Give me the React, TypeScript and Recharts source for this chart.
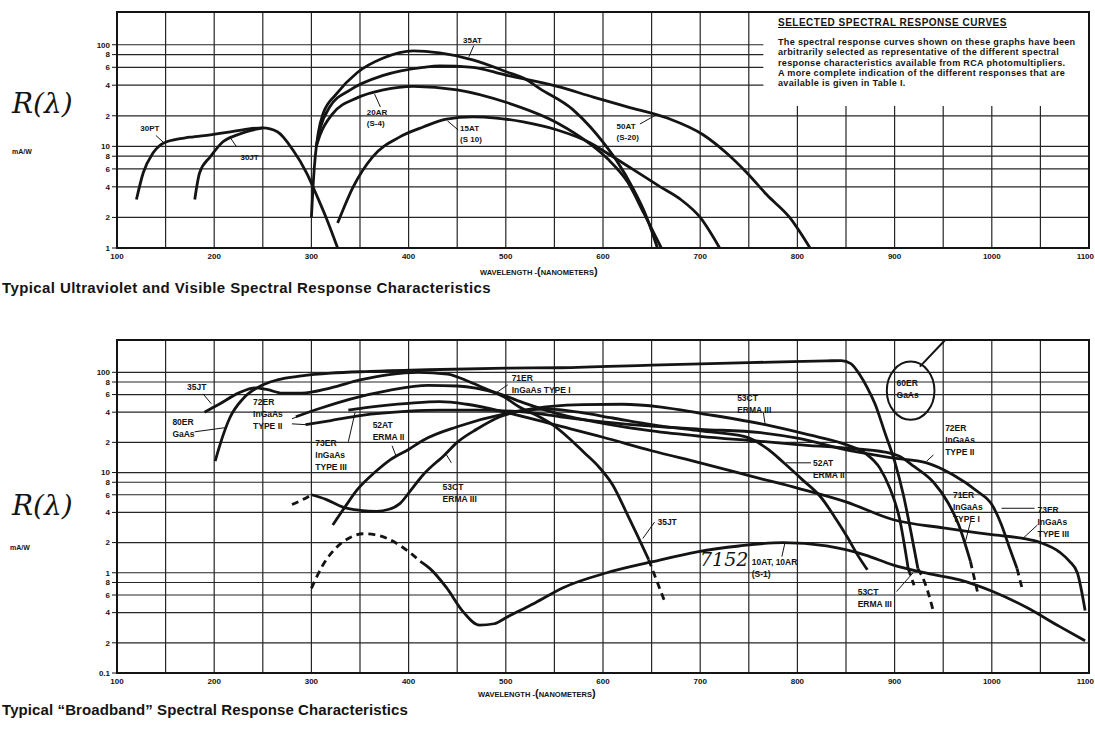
import {
  CartesianGrid,
  Line,
  LineChart,
  ReferenceArea,
  ReferenceDot,
  ReferenceLine,
  XAxis,
  YAxis,
} from "recharts";

const INK = "#141414";
const SANS = "'Liberation Sans', Arial, sans-serif";

// wavelength grid every 50 nm, labels every 100 nm
const WAVELENGTH_TICKS = [100, 150, 200, 250, 300, 350, 400, 450, 500, 550, 600, 650, 700, 750, 800, 850, 900, 950, 1000, 1050, 1100];
const UV_TICKS = [1, 2, 4, 6, 8, 10, 20, 40, 60, 80, 100];
const BB_TICKS = [0.1, 0.2, 0.4, 0.6, 0.8, 1, 2, 4, 6, 8, 10, 20, 40, 60, 80, 100];

// [wavelength nm, responsivity mA/W] — ultraviolet / visible
const UV_30PT = [[120, 3.0], [127, 5.5], [137, 8.6], [151, 11.1], [175, 12.3], [196, 13], [215, 13.8], [234, 14.8], [250, 15.2], [265, 13.9], [281, 9.2], [295, 5.5], [306, 3.2], [316, 1.9], [327, 1.0]];
const UV_30JT = [[180, 3.0], [185, 5.5], [196, 7.9], [209, 11.1], [223, 12.9], [237, 14.3], [250, 15.2]];
const UV_35AT = [[300, 2.0], [302, 4.5], [304, 8], [307, 13.5], [312, 21], [326, 33], [347, 53], [374, 74], [405, 87], [432, 83], [466, 71], [501, 54], [520, 46], [535, 37], [569, 23], [587, 15.5], [600, 11], [615, 7], [630, 4], [645, 2], [656, 1.0]];
const UV_20AR = [[305, 10], [309, 13], [322, 21], [347, 30], [374, 36], [405, 39], [450, 36], [501, 27], [553, 17], [587, 10.5], [605, 7.5], [625, 4.5], [642, 2.2], [660, 1.0]];
const UV_15AT = [[327, 1.76], [343, 4.0], [363, 7.9], [391, 12.4], [415, 15.5], [439, 18.5], [466, 19.5], [490, 19], [518, 17.4], [553, 14.5], [587, 10.8], [604, 8.6], [630, 6], [659, 4.0], [680, 3], [700, 2.0], [720, 1.0]];
const UV_50AT = [[305, 10], [309, 15], [319, 24.5], [340, 36], [374, 50], [415, 60], [432, 62], [466, 60], [501, 50], [520, 46], [553, 39], [590, 30.5], [625, 24.5], [666, 19], [703, 13], [727, 8.6], [748, 5.5], [769, 3.3], [792, 2.0], [813, 1.0]];

// broadband
const BB_35JT = [[190, 40], [205, 48], [225, 62], [242, 70], [255, 67], [270, 62], [290, 62], [320, 70], [350, 84], [380, 95], [410, 100], [440, 96], [463, 80], [480, 68], [498, 57], [514, 45], [532, 37], [548, 30], [565, 22], [580, 16], [596, 11.3], [610, 7.5], [623, 4.2], [635, 2.4], [647, 1.35]];
const BB_35JT_TAIL = [[647, 1.35], [656, 0.8], [664, 0.5]];
const BB_60ER = [[201, 13], [206, 19], [216, 35], [230, 55], [244, 70], [265, 84], [290, 92], [320, 98], [360, 102], [420, 106], [500, 110], [556, 111], [650, 118], [750, 125], [830, 130], [845, 131], [855, 122], [864, 95], [872, 70], [880, 48], [890, 25], [900, 13], [909, 6], [917, 2.5], [924, 1.1]];
const BB_60ER_TAIL = [[924, 1.1], [931, 0.8], [940, 0.41]];
const BB_71ER = [[284, 36], [310, 44], [340, 54], [380, 66], [420, 74], [450, 73], [491, 62], [520, 49], [556, 38], [600, 31], [650, 26], [700, 23], [762, 20.5], [800, 19], [850, 17.5], [890, 16], [905, 14.5], [920, 11.5], [940, 8], [955, 5], [966, 3], [978, 1.3]];
const BB_71ER_TAIL = [[978, 1.3], [986, 0.6]];
const BB_72ER = [[294, 30], [320, 33], [350, 37], [400, 41], [432, 42], [470, 42], [520, 40], [556, 36], [600, 32], [650, 29], [700, 27], [762, 25], [800, 22], [854, 16.5], [898, 14], [933, 12.5], [960, 9.5], [985, 6.5], [1000, 4.8], [1010, 3], [1018, 1.8], [1026, 1.1]];
const BB_72ER_TAIL = [[1026, 1.1], [1032, 0.65]];
const BB_73ER = [[338, 42], [360, 45], [400, 49], [432, 51], [460, 48], [500, 40], [550, 30], [600, 22.5], [650, 16.5], [700, 12.5], [762, 8.7], [800, 7], [850, 5.1], [898, 3.4], [950, 2.8], [1000, 2.4], [1032, 2.2], [1050, 2.0], [1070, 1.6], [1080, 1.3], [1088, 1.0], [1096, 0.42]];
const BB_52AT = [[322, 3.0], [335, 4.6], [347, 6.7], [365, 10], [381, 13.4], [400, 17], [415, 21], [450, 28.6], [501, 39], [520, 42], [545, 43], [575, 40], [610, 35], [650, 30], [700, 26], [746, 22.8], [770, 17], [786, 12.5], [805, 8.5], [824, 5.7], [840, 3.4], [851, 2.3], [862, 1.5], [872, 1.07]];
const BB_53CT_HEAD = [[280, 4.8], [290, 5.3], [300, 6.0]];
const BB_53CT = [[300, 6.0], [315, 5.4], [333, 4.5], [350, 4.2], [367, 4.1], [380, 4.3], [391, 4.9], [403, 6.8], [415, 9.5], [437, 15], [450, 20], [470, 27], [494, 36], [520, 42], [550, 46], [580, 47.5], [620, 48], [660, 45], [700, 39], [767, 30], [810, 24], [850, 19], [870, 15.5], [885, 11], [895, 7], [905, 3.5], [914, 1.1]];
const BB_53CT_TAIL = [[914, 1.1], [920, 0.75]];
const BB_S1_HEAD = [[300, 0.7], [312, 1.2], [326, 1.8], [340, 2.25], [353, 2.45], [365, 2.4], [378, 2.2], [390, 1.9], [401, 1.6], [412, 1.3]];
const BB_S1 = [[412, 1.3], [422, 1.1], [439, 0.71], [456, 0.41], [473, 0.3], [488, 0.31], [501, 0.36], [530, 0.5], [559, 0.71], [604, 1.0], [651, 1.29], [697, 1.62], [740, 1.85], [785, 2.0], [830, 1.85], [870, 1.5], [898, 1.2], [935, 0.98], [967, 0.85], [1001, 0.65], [1036, 0.45], [1070, 0.29], [1096, 0.21]];

// curve names: [nm, mA/W at first baseline, lines]
const UV_NOTES: [number, number, string[]][] = [
  [124, 14.2, ["30PT"]],
  [227, 7.35, ["30JT"]],
  [456, 104, ["35AT"]],
  [357, 20.4, ["20AR", "(S-4)"]],
  [453, 14.1, ["15AT", "(S 10)"]],
  [614, 14.8, ["50AT", "(S-20)"]],
];
const BB_NOTES: [number, number, string[]][] = [
  [172, 67, ["35JT"]],
  [157, 30, ["80ER", "GaAs"]],
  [240, 47.6, ["72ER", "InGaAs", "TYPE II"]],
  [304, 18.5, ["73ER", "InGaAs", "TYPE III"]],
  [363, 28, ["52AT", "ERMA II"]],
  [435, 6.7, ["53CT", "ERMA III"]],
  [506, 82.4, ["71ER", "InGaAs TYPE I"]],
  [656, 3.0, ["35JT"]],
  [738, 52, ["53CT", "ERMA III"]],
  [753, 1.2, ["10AT, 10AR", "(S-1)"]],
  [816, 11.7, ["52AT", "ERMA II"]],
  [902, 73, ["60ER", "GaAs"]],
  [952, 26.1, ["72ER", "InGaAs", "TYPE II"]],
  [960, 5.6, ["71ER", "InGaAs", "TYPE I"]],
  [1047, 3.97, ["73ER", "InGaAs", "TYPE III"]],
  [862, 0.6, ["53CT", "ERMA III"]],
];

// pointer strokes from names to curves: [nm1, v1, nm2, v2]
const UV_POINTERS = [
  [140, 12.8, 148, 10.9],
  [223, 9.9, 216, 12.4],
  [467, 98, 462, 76],
  [371, 24.4, 365, 32.7],
  [451, 14.5, 440, 17.8],
  [638, 16.6, 655, 20.5],
];
const BB_POINTERS = [
  [188.5, 61, 197, 48.6],
  [180, 25.5, 211, 28],
  [280, 34.4, 291, 37.8],
  [280, 30.6, 295, 30],
  [338, 20.3, 345, 40],
  [383, 18.5, 387, 14.7],
  [444, 12.5, 439, 15],
  [502, 75, 489, 61.4],
  [653, 3.2, 641, 2.2],
  [765, 39.5, 767, 29.5],
  [788, 12.5, 814, 12.5],
  [940, 15, 933, 13],
  [978, 3.2, 972, 1.9],
  [1047, 3.0, 1032, 2.2],
  [1010, 4.4, 1044, 4.4],
  [902, 0.65, 919, 1.0],
  [784, 1.45, 787, 1.95],
];

const toPts = (rows: number[][]) => rows.map(([nm, v]) => ({ nm, v }));

const tickText = (v: number) => {
  const exp = Math.floor(Math.log10(v) + 1e-9);
  const m = Math.round(v / Math.pow(10, exp));
  return m === 1 ? String(v) : String(m);
};

// hundreds only; the last one is pulled in so it stays on the page
const WavelengthTick = (props: any) => {
  const { x, y, payload } = props;
  const v = payload.value;
  if (v % 100 !== 0) return null;
  const last = v === 1100;
  return (
    <text
      x={last ? x + 5 : x}
      y={y}
      dy="0.71em"
      textAnchor={last ? "end" : "middle"}
      fontSize={8}
      fontWeight={700}
      fontFamily={SANS}
      fill={INK}
    >
      {v}
    </text>
  );
};

const noteContent = (lines: string[], size: number, gap: number) => (props: any) => {
  const vb = props.viewBox || {};
  const x = vb.x ?? 0;
  const y = vb.y ?? 0;
  return (
    <text x={x} y={y} fontSize={size} fontWeight={700} fontFamily={SANS} fill={INK}>
      {lines.map((t, i) => (
        <tspan key={i} x={x} dy={i === 0 ? 0 : gap}>
          {t}
        </tspan>
      ))}
    </text>
  );
};

const curve = (rows: number[][], key: string, dashed = false) => (
  <Line
    key={key}
    data={toPts(rows)}
    dataKey="v"
    type="monotone"
    stroke={INK}
    strokeWidth={2.8}
    strokeDasharray={dashed ? "7 5" : undefined}
    dot={false}
    activeDot={false}
    isAnimationActive={false}
  />
);

const notes = (list: [number, number, string[]][], size: number, gap: number) =>
  list.map(([x, y, lines], i) => (
    <ReferenceDot
      key={"n" + i}
      x={x}
      y={y}
      r={0}
      fill="none"
      stroke="none"
      ifOverflow="visible"
      label={noteContent(lines, size, gap)}
    />
  ));

const pointers = (list: number[][]) =>
  list.map(([x1, y1, x2, y2], i) => (
    <ReferenceLine
      key={"p" + i}
      segment={[{ x: x1, y: y1 }, { x: x2, y: y2 }]}
      stroke={INK}
      strokeWidth={1}
      ifOverflow="visible"
    />
  ));

const tickStyle = { fontSize: 8, fontWeight: 700, fill: INK, fontFamily: SANS };

function UvChart() {
  return (
    <LineChart width={1095} height={262} margin={{ top: 12, right: 6, bottom: 0, left: 0 }}>
      <CartesianGrid stroke="#262626" strokeWidth={1.2} />
      <XAxis
        dataKey="nm"
        type="number"
        domain={[100, 1100]}
        ticks={WAVELENGTH_TICKS}
        interval={0}
        allowDataOverflow
        height={14}
        tickLine={false}
        tickSize={3}
        axisLine={{ stroke: INK, strokeWidth: 2 }}
        tick={<WavelengthTick />}
      />
      <YAxis
        scale="log"
        domain={[1, 210]}
        ticks={UV_TICKS}
        interval={0}
        tickFormatter={tickText}
        allowDataOverflow
        width={117}
        tickSize={5}
        tickLine={{ stroke: INK }}
        axisLine={{ stroke: INK, strokeWidth: 2 }}
        tick={tickStyle}
      />
      {/* blank panel for the note in the upper right */}
      <ReferenceArea x1={765} x2={1100} y1={25} y2={210} fill="#ffffff" fillOpacity={1} stroke="none" ifOverflow="visible" />
      <ReferenceArea x1={100} x2={1100} y1={1} y2={210} fill="none" stroke={INK} strokeWidth={2} ifOverflow="visible" />
      {curve(UV_30PT, "30PT")}
      {curve(UV_30JT, "30JT")}
      {curve(UV_35AT, "35AT")}
      {curve(UV_20AR, "20AR")}
      {curve(UV_15AT, "15AT")}
      {curve(UV_50AT, "50AT")}
      {pointers(UV_POINTERS)}
      {notes(UV_NOTES, 8, 11)}
    </LineChart>
  );
}

function BroadbandChart() {
  return (
    <LineChart width={1095} height={359} margin={{ top: 12, right: 6, bottom: 0, left: 0 }}>
      <CartesianGrid stroke="#262626" strokeWidth={1.2} />
      <XAxis
        dataKey="nm"
        type="number"
        domain={[100, 1100]}
        ticks={WAVELENGTH_TICKS}
        interval={0}
        allowDataOverflow
        height={14}
        tickLine={false}
        tickSize={3}
        axisLine={{ stroke: INK, strokeWidth: 2 }}
        tick={<WavelengthTick />}
      />
      <YAxis
        scale="log"
        domain={[0.1, 210]}
        ticks={BB_TICKS}
        interval={0}
        tickFormatter={tickText}
        allowDataOverflow
        width={117}
        tickSize={5}
        tickLine={{ stroke: INK }}
        axisLine={{ stroke: INK, strokeWidth: 2 }}
        tick={tickStyle}
      />
      <ReferenceArea x1={100} x2={1100} y1={0.1} y2={210} fill="none" stroke={INK} strokeWidth={2} ifOverflow="visible" />
      {curve(BB_35JT, "35JT")}
      {curve(BB_35JT_TAIL, "35JT-tail", true)}
      {curve(BB_60ER, "60ER")}
      {curve(BB_60ER_TAIL, "60ER-tail", true)}
      {curve(BB_71ER, "71ER")}
      {curve(BB_71ER_TAIL, "71ER-tail", true)}
      {curve(BB_72ER, "72ER")}
      {curve(BB_72ER_TAIL, "72ER-tail", true)}
      {curve(BB_73ER, "73ER")}
      {curve(BB_52AT, "52AT")}
      {curve(BB_53CT_HEAD, "53CT-head", true)}
      {curve(BB_53CT, "53CT")}
      {curve(BB_53CT_TAIL, "53CT-tail", true)}
      {curve(BB_S1_HEAD, "S1-head", true)}
      {curve(BB_S1, "S1")}
      {/* pen mark around the GaAs name */}
      <ReferenceArea
        x1={892}
        x2={941}
        y1={33.6}
        y2={128}
        ifOverflow="visible"
        shape={(p: any) => (
          <ellipse
            cx={p.x + p.width / 2}
            cy={p.y + p.height / 2}
            rx={Math.abs(p.width) / 2}
            ry={Math.abs(p.height) / 2}
            fill="none"
            stroke={INK}
            strokeWidth={2}
          />
        )}
      />
      <ReferenceLine segment={[{ x: 926, y: 114 }, { x: 952, y: 210 }]} stroke={INK} strokeWidth={2} ifOverflow="visible" />
      {pointers(BB_POINTERS)}
      {notes(BB_NOTES, 8.5, 12)}
    </LineChart>
  );
}

const abs = (left: number, top: number, extra: any = {}) => ({
  position: "absolute" as const,
  left,
  top,
  whiteSpace: "nowrap" as const,
  color: INK,
  fontFamily: SANS,
  lineHeight: 1,
  ...extra,
});

const NOTE_LINES = [
  "The spectral response curves shown on these graphs have been",
  "arbitrarily selected as representative of the different spectral",
  "response characteristics available from RCA photomultipliers.",
  "A more complete indication of the different responses that are",
  "available is given in Table I.",
];

export default function App() {
  return (
    <div style={{ position: "absolute", left: 0, top: 0, width: 1095, height: 748, background: "#fff", overflow: "hidden" }}>
      <div style={{ position: "absolute", left: 0, top: 0 }}>
        <UvChart />
      </div>
      <div style={{ position: "absolute", left: 0, top: 328 }}>
        <BroadbandChart />
      </div>

      <div style={abs(778, 18, { fontSize: 10, fontWeight: 700, letterSpacing: 0.5, textDecoration: "underline" })}>
        SELECTED SPECTRAL RESPONSE CURVES
      </div>
      {NOTE_LINES.map((t, i) => (
        <div key={i} style={abs(778, 38 + i * 10.3, { fontSize: 9.1, fontWeight: 700, letterSpacing: 0.3 })}>
          {t}
        </div>
      ))}

      <div style={abs(12, 90, { fontFamily: "'DejaVu Serif', serif", fontStyle: "italic", fontSize: 28 })}>R(λ)</div>
      <div style={abs(12, 148, { fontSize: 7, fontWeight: 700 })}>mA/W</div>
      <div style={abs(480, 266, { fontSize: 7.5, fontWeight: 700 })}>
        WAVELENGTH -<span style={{ fontSize: 11 }}>(</span>NANOMETERS<span style={{ fontSize: 11 }}>)</span>
      </div>
      <div style={abs(2, 280, { fontSize: 15, fontWeight: 700, letterSpacing: 0.4 })}>
        Typical Ultraviolet and Visible Spectral Response Characteristics
      </div>

      <div style={abs(12, 492, { fontFamily: "'DejaVu Serif', serif", fontStyle: "italic", fontSize: 28 })}>R(λ)</div>
      <div style={abs(10, 544, { fontSize: 7, fontWeight: 700 })}>mA/W</div>
      <div style={abs(700, 550, { fontFamily: "'DejaVu Serif', serif", fontStyle: "italic", fontSize: 19 })}>7152</div>
      <div style={abs(478, 688, { fontSize: 7.5, fontWeight: 700 })}>
        WAVELENGTH -<span style={{ fontSize: 11 }}>(</span>NANOMETERS<span style={{ fontSize: 11 }}>)</span>
      </div>
      <div style={abs(2, 702, { fontSize: 15, fontWeight: 700, letterSpacing: 0.1 })}>
        Typical “Broadband” Spectral Response Characteristics
      </div>
    </div>
  );
}
